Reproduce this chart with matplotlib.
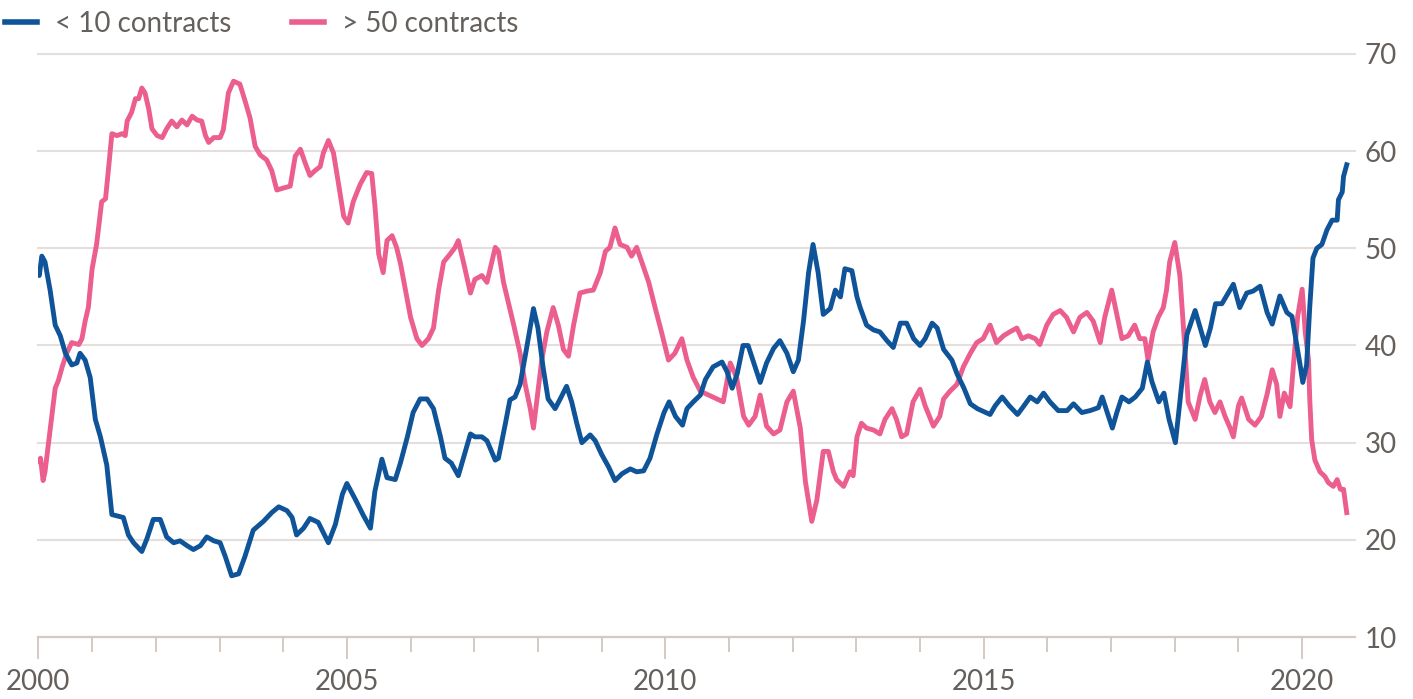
import matplotlib
matplotlib.use("Agg")
import matplotlib.pyplot as plt
from matplotlib.lines import Line2D

# share of positions (%) held by holders of < 10 and > 50 contracts
t_small = [2000.15, 2000.17, 2000.21, 2000.26, 2000.34, 2000.42, 2000.50, 2000.58, 2000.68, 2000.76,
           2000.81, 2000.89, 2000.97, 2001.05, 2001.13, 2001.23, 2001.31, 2001.49, 2001.57, 2001.65,
           2001.78, 2001.86, 2001.96, 2002.07, 2002.17, 2002.28, 2002.38, 2002.49, 2002.59, 2002.70,
           2002.80, 2002.91, 2003.01, 2003.09, 2003.19, 2003.30, 2003.40, 2003.53, 2003.69, 2003.82,
           2003.93, 2004.06, 2004.14, 2004.21, 2004.32, 2004.42, 2004.55, 2004.71, 2004.82, 2004.93,
           2005.00, 2005.13, 2005.26, 2005.37, 2005.44, 2005.55, 2005.63, 2005.76, 2005.84, 2005.95,
           2006.04, 2006.15, 2006.26, 2006.36, 2006.47, 2006.54, 2006.64, 2006.75, 2006.83, 2006.94,
           2007.01, 2007.12, 2007.20, 2007.33, 2007.38, 2007.49, 2007.56, 2007.64, 2007.72, 2007.80,
           2007.93, 2008.00, 2008.08, 2008.16, 2008.27, 2008.35, 2008.45, 2008.53, 2008.61, 2008.69,
           2008.82, 2008.90, 2009.00, 2009.11, 2009.21, 2009.32, 2009.45, 2009.55, 2009.66, 2009.76,
           2009.87, 2009.98, 2010.06, 2010.16, 2010.27, 2010.34, 2010.44, 2010.55, 2010.63, 2010.75,
           2010.89, 2010.97, 2011.05, 2011.13, 2011.22, 2011.30, 2011.41, 2011.49, 2011.59, 2011.70,
           2011.80, 2011.91, 2012.01, 2012.09, 2012.17, 2012.25, 2012.32, 2012.40, 2012.48, 2012.59,
           2012.67, 2012.75, 2012.82, 2012.93, 2013.01, 2013.06, 2013.16, 2013.27, 2013.37, 2013.48,
           2013.58, 2013.69, 2013.79, 2013.90, 2014.00, 2014.08, 2014.19, 2014.27, 2014.37, 2014.50,
           2014.58, 2014.69, 2014.79, 2014.90, 2015.10, 2015.18, 2015.29, 2015.40, 2015.53, 2015.61,
           2015.73, 2015.84, 2015.94, 2016.04, 2016.17, 2016.31, 2016.41, 2016.54, 2016.67, 2016.80,
           2016.86, 2016.94, 2017.02, 2017.09, 2017.17, 2017.28, 2017.38, 2017.49, 2017.57, 2017.64,
           2017.75, 2017.83, 2017.91, 2018.01, 2018.08, 2018.19, 2018.32, 2018.40, 2018.48, 2018.56,
           2018.64, 2018.74, 2018.84, 2018.92, 2019.02, 2019.13, 2019.23, 2019.34, 2019.45, 2019.53,
           2019.65, 2019.76, 2019.84, 2019.92, 2019.97, 2020.01, 2020.07, 2020.12, 2020.17, 2020.23,
           2020.31, 2020.39, 2020.47, 2020.55, 2020.57, 2020.63, 2020.65, 2020.70]
v_small = [47.5, 47.2, 49.2, 48.6, 45.7, 42.1, 41.0, 39.2, 38.0, 38.2,
           39.2, 38.5, 36.7, 32.4, 30.6, 27.7, 22.6, 22.3, 20.5, 19.7,
           18.8, 20.1, 22.1, 22.1, 20.3, 19.7, 19.9, 19.4, 19.0, 19.4,
           20.3, 19.9, 19.7, 18.3, 16.3, 16.5, 18.3, 21.0, 21.9, 22.8,
           23.4, 23.0, 22.3, 20.5, 21.2, 22.2, 21.8, 19.7, 21.6, 24.7,
           25.8, 24.2, 22.5, 21.2, 25.0, 28.3, 26.4, 26.2, 27.9, 30.6,
           33.1, 34.5, 34.5, 33.5, 30.6, 28.4, 27.9, 26.6, 28.4, 30.9,
           30.6, 30.6, 30.2, 28.2, 28.4, 32.0, 34.4, 34.7, 36.0, 38.9,
           43.8, 41.8, 37.8, 34.5, 33.5, 34.5, 35.8, 34.2, 32.0, 30.0,
           30.8, 30.2, 28.8, 27.5, 26.1, 26.8, 27.3, 27.0, 27.1, 28.4,
           30.9, 33.1, 34.2, 32.7, 31.8, 33.5, 34.2, 34.9, 36.5, 37.8,
           38.3, 37.3, 35.6, 37.1, 40.0, 40.0, 37.8, 36.2, 38.2, 39.7,
           40.5, 39.2, 37.3, 38.5, 42.5, 47.5, 50.4, 47.5, 43.2, 43.8,
           45.7, 45.0, 47.9, 47.7, 45.0, 43.9, 42.1, 41.6, 41.4, 40.5,
           39.8, 42.3, 42.3, 40.7, 40.0, 40.7, 42.3, 41.8, 39.6, 38.5,
           37.1, 35.6, 34.0, 33.5, 32.9, 33.8, 34.7, 33.8, 32.9, 33.6,
           34.7, 34.2, 35.1, 34.2, 33.3, 33.3, 34.0, 33.1, 33.3, 33.6,
           34.7, 33.1, 31.5, 33.1, 34.7, 34.2, 34.7, 35.6, 38.3, 36.3,
           34.2, 35.1, 32.4, 30.0, 34.2, 41.1, 43.6, 41.8, 40.0, 41.8,
           44.3, 44.3, 45.4, 46.3, 43.9, 45.4, 45.6, 46.1, 43.4, 42.2,
           45.1, 43.4, 43.0, 39.9, 37.9, 36.2, 38.0, 44.0, 49.0, 50.0,
           50.4, 51.9, 52.9, 52.9, 55.0, 55.8, 57.4, 58.6]

t_large = [2000.15, 2000.19, 2000.23, 2000.26, 2000.34, 2000.42, 2000.47, 2000.53, 2000.60, 2000.68,
           2000.79, 2000.84, 2000.89, 2000.94, 2001.00, 2001.07, 2001.15, 2001.21, 2001.25, 2001.31,
           2001.39, 2001.47, 2001.52, 2001.55, 2001.62, 2001.68, 2001.73, 2001.78, 2001.83, 2001.89,
           2001.94, 2002.02, 2002.10, 2002.17, 2002.25, 2002.33, 2002.41, 2002.49, 2002.57, 2002.65,
           2002.72, 2002.78, 2002.83, 2002.91, 2003.01, 2003.06, 2003.14, 2003.22, 2003.32, 2003.40,
           2003.48, 2003.56, 2003.64, 2003.74, 2003.82, 2003.90, 2004.00, 2004.11, 2004.19, 2004.27,
           2004.35, 2004.42, 2004.50, 2004.58, 2004.63, 2004.71, 2004.79, 2004.87, 2004.95, 2005.02,
           2005.10, 2005.21, 2005.31, 2005.39, 2005.44, 2005.50, 2005.57, 2005.63, 2005.71, 2005.78,
           2005.84, 2005.92, 2006.00, 2006.10, 2006.18, 2006.28, 2006.36, 2006.44, 2006.52, 2006.62,
           2006.70, 2006.75, 2006.83, 2006.94, 2007.01, 2007.12, 2007.20, 2007.25, 2007.33, 2007.38,
           2007.46, 2007.54, 2007.62, 2007.72, 2007.80, 2007.88, 2007.93, 2007.98, 2008.06, 2008.14,
           2008.24, 2008.32, 2008.40, 2008.48, 2008.56, 2008.66, 2008.77, 2008.87, 2008.98, 2009.06,
           2009.13, 2009.21, 2009.29, 2009.40, 2009.47, 2009.55, 2009.63, 2009.74, 2009.84, 2009.94,
           2010.05, 2010.15, 2010.26, 2010.34, 2010.44, 2010.55, 2010.68, 2010.81, 2010.91, 2011.02,
           2011.12, 2011.23, 2011.31, 2011.41, 2011.49, 2011.59, 2011.70, 2011.80, 2011.91, 2012.01,
           2012.12, 2012.20, 2012.30, 2012.38, 2012.48, 2012.56, 2012.64, 2012.69, 2012.80, 2012.90,
           2012.95, 2013.01, 2013.08, 2013.16, 2013.27, 2013.37, 2013.45, 2013.56, 2013.63, 2013.71,
           2013.79, 2013.89, 2014.00, 2014.08, 2014.21, 2014.31, 2014.37, 2014.47, 2014.58, 2014.68,
           2014.79, 2014.89, 2014.99, 2015.10, 2015.20, 2015.31, 2015.41, 2015.52, 2015.60, 2015.70,
           2015.81, 2015.88, 2015.99, 2016.09, 2016.20, 2016.30, 2016.41, 2016.51, 2016.62, 2016.72,
           2016.83, 2016.90, 2017.01, 2017.09, 2017.17, 2017.27, 2017.37, 2017.45, 2017.53, 2017.58,
           2017.66, 2017.74, 2017.82, 2017.87, 2017.92, 2018.00, 2018.08, 2018.16, 2018.21, 2018.32,
           2018.40, 2018.47, 2018.55, 2018.63, 2018.71, 2018.79, 2018.87, 2018.92, 2019.00, 2019.05,
           2019.16, 2019.26, 2019.36, 2019.45, 2019.53, 2019.60, 2019.65, 2019.72, 2019.81, 2019.88,
           2019.93, 2020.00, 2020.05, 2020.10, 2020.12, 2020.15, 2020.20, 2020.28, 2020.36, 2020.41,
           2020.49, 2020.55, 2020.60, 2020.65, 2020.70]
v_large = [28.1, 28.4, 26.1, 27.0, 31.3, 35.6, 36.4, 37.8, 39.2, 40.3,
           40.1, 40.7, 42.5, 43.9, 47.9, 50.4, 54.8, 55.1, 57.7, 61.8,
           61.6, 61.8, 61.6, 63.1, 64.0, 65.4, 65.4, 66.5, 66.0, 64.3,
           62.3, 61.6, 61.4, 62.3, 63.1, 62.5, 63.2, 62.7, 63.6, 63.2,
           63.1, 61.6, 60.9, 61.4, 61.4, 62.2, 66.0, 67.2, 66.9, 65.2,
           63.4, 60.5, 59.6, 59.1, 58.0, 56.0, 56.2, 56.4, 59.5, 60.2,
           58.7, 57.5, 58.0, 58.4, 59.8, 61.1, 59.8, 56.6, 53.3, 52.6,
           54.8, 56.6, 57.8, 57.7, 54.4, 49.4, 47.5, 50.8, 51.3, 50.1,
           48.5, 45.7, 42.9, 40.7, 40.0, 40.7, 41.8, 45.7, 48.6, 49.4,
           50.1, 50.8, 48.6, 45.4, 46.8, 47.2, 46.5, 47.9, 50.1, 49.7,
           46.5, 44.3, 42.1, 39.2, 36.0, 33.5, 31.5, 34.2, 38.5, 41.4,
           43.9, 42.1, 39.6, 38.9, 42.1, 45.4, 45.6, 45.7, 47.5, 49.7,
           50.1, 52.1, 50.4, 50.1, 49.2, 50.1, 48.6, 46.5, 43.9, 41.4,
           38.5, 39.2, 40.7, 38.5, 36.7, 35.3, 34.9, 34.5, 34.2, 38.2,
           36.7, 32.7, 31.8, 32.7, 34.9, 31.7, 30.9, 31.3, 34.2, 35.3,
           31.5, 26.0, 21.9, 24.1, 29.1, 29.1, 27.0, 26.2, 25.5, 27.0,
           26.6, 30.6, 32.0, 31.5, 31.3, 30.9, 32.4, 33.5, 32.4, 30.6,
           30.9, 34.2, 35.5, 33.8, 31.7, 32.7, 34.5, 35.3, 36.0, 37.8,
           39.2, 40.3, 40.7, 42.1, 40.3, 41.0, 41.4, 41.8, 40.7, 41.0,
           40.7, 40.1, 42.1, 43.2, 43.6, 42.9, 41.4, 42.9, 43.4, 42.5,
           40.3, 42.9, 45.7, 43.2, 40.7, 41.0, 42.1, 40.7, 40.7, 38.5,
           41.4, 42.9, 43.9, 45.7, 48.6, 50.6, 47.2, 39.6, 34.2, 32.4,
           34.9, 36.5, 34.2, 33.1, 34.2, 32.7, 31.5, 30.6, 33.8, 34.6,
           32.4, 31.8, 32.7, 35.0, 37.5, 36.0, 32.7, 35.1, 33.7, 39.3,
           43.0, 45.8, 41.3, 38.5, 34.4, 30.3, 28.2, 27.0, 26.5, 25.9,
           25.5, 26.2, 25.2, 25.2, 22.8]

labels = ["< 10 contracts", "> 50 contracts"]
year_labels = [2000, 2005, 2010, 2015, 2020]
y_ticks = [10, 20, 30, 40, 50, 60, 70]

BLUE = "#0f5499"
PINK = "#eb5e8d"
GRID = "#e4dfda"
AXIS = "#d2cac3"
TEXT = "#66605c"

plt.rcParams["font.family"] = ["Lato", "DejaVu Sans"]

fig = plt.figure(figsize=(14.13, 6.99), dpi=100)
W, H = 1413, 699
ax = fig.add_axes([38 / W, 1 - 637 / H, (1355 - 38) / W, (637 - 54) / H])

ax.plot(t_small, v_small, color=BLUE, lw=3.5, solid_joinstyle="round", zorder=3)
ax.plot(t_large, v_large, color=PINK, lw=3.5, solid_joinstyle="round", zorder=2)

x0, x1 = 2000.15, 2020.83
ax.set_xlim(x0, x1)
ax.set_ylim(10, 70)

# y axis on the right, gridlines only
ax.yaxis.tick_right()
ax.set_yticks(y_ticks)
ax.tick_params(axis="y", length=0, pad=7, labelsize=20, labelcolor=TEXT)
for y in y_ticks[1:]:
    ax.axhline(y, color=GRID, lw=1.5, zorder=1, clip_on=False)

# x axis: year ticks, the first one sitting at the start of the axis
major = [max(y, x0) for y in year_labels]
ax.set_xticks(major)
ax.set_xticklabels([str(y) for y in year_labels])
ax.set_xticks([y for y in range(2001, 2021) if y not in year_labels], minor=True)
ax.tick_params(axis="x", which="major", length=16, width=1.4, color=AXIS,
               pad=7, labelsize=20, labelcolor=TEXT)
ax.tick_params(axis="x", which="minor", length=11, width=1.4, color=AXIS)

for side in ["top", "left", "right"]:
    ax.spines[side].set_visible(False)
ax.spines["bottom"].set_color(AXIS)
ax.spines["bottom"].set_linewidth(1.6)

handles = [Line2D([], [], color=BLUE, lw=4), Line2D([], [], color=PINK, lw=4)]
fig.legend(handles, labels, loc="upper left", bbox_to_anchor=(5 / W, 1 - 11 / H), ncol=2,
           frameon=False, fontsize=20, labelcolor=TEXT, handlelength=1.15,
           handletextpad=0.65, columnspacing=2.2, borderpad=0, borderaxespad=0)

fig.savefig("out.png", dpi=100, facecolor="white")
